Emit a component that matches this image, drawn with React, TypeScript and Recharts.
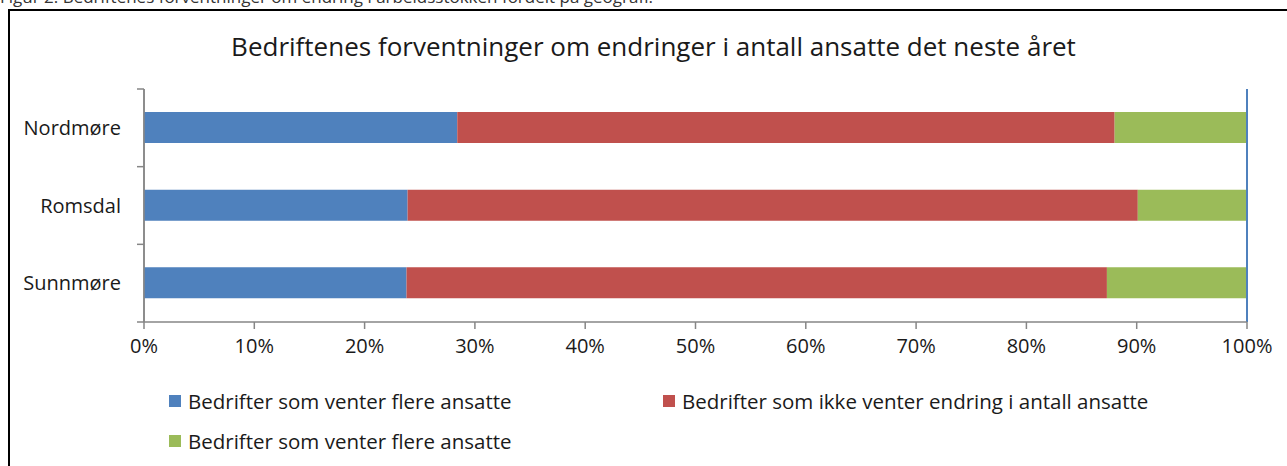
import { BarChart, Bar, XAxis, YAxis, CartesianGrid, ReferenceLine } from 'recharts';

const regions = ['Nordmøre', 'Romsdal', 'Sunnmøre'];
const flere = [28.4, 23.9, 23.8];
const ingenEndring = [59.6, 66.2, 63.5];
const faerre = [12.0, 9.9, 12.7];
const xTicks = [0, 10, 20, 30, 40, 50, 60, 70, 80, 90, 100];

const seriesNames = [
  'Bedrifter som venter flere ansatte',
  'Bedrifter som ikke venter endring i antall ansatte',
  'Bedrifter som venter flere ansatte',
];
const colors = ['#4F81BD', '#C0504D', '#9BBB59'];

const data = regions.map((name, i) => ({
  name,
  a: flere[i],
  b: ingenEndring[i],
  c: faerre[i],
}));

const FONT = '"Open Sans", "Noto Sans", sans-serif';
const W = 1287;
const H = 466;
const PLOT_TOP = 89;
const PLOT_BOTTOM = 322;
const X_AXIS_H = 30;
const BAND = (PLOT_BOTTOM - PLOT_TOP) / regions.length;
const LABEL_SIZE = 20;

// category label at the band centre, tick marks on the band boundaries (Excel style)
const CategoryTick = (props: any) => {
  const { x, y, payload, index } = props;
  return (
    <g>
      {index === 0 && <line x1={x - 7} x2={x} y1={y - BAND / 2} y2={y - BAND / 2} stroke="#868686" strokeWidth={1.5} />}
      <line x1={x - 7} x2={x} y1={y + BAND / 2} y2={y + BAND / 2} stroke="#868686" strokeWidth={1.5} />
      <text x={x - 23} y={y} dy="0.35em" textAnchor="end" fontSize={LABEL_SIZE} fill="#1a1a1a" fontFamily={FONT}>
        {payload.value}
      </text>
    </g>
  );
};

export default function App() {
  return (
    <div style={{ position: 'absolute', left: 0, top: 0, width: W, height: H, overflow: 'hidden', background: '#fff', fontFamily: FONT }}>
      <div style={{ position: 'absolute', left: 0, top: -13, fontSize: 17, lineHeight: '20px', color: '#333', whiteSpace: 'nowrap' }}>
        Figur 2: Bedriftenes forventninger om endring i arbeidsstokken fordelt på geografi.
      </div>
      <div style={{ position: 'absolute', left: 8, top: 9, width: W, height: H, borderLeft: '2.5px solid #000', borderTop: '2.5px solid #000', boxSizing: 'border-box' }} />
      <div style={{ position: 'absolute', left: 0, top: 31, width: 1307, textAlign: 'center', fontSize: 26, lineHeight: '30px', color: '#1a1a1a', whiteSpace: 'nowrap' }}>
        Bedriftenes forventninger om endringer i antall ansatte det neste året
      </div>
      <div style={{ position: 'absolute', left: 0, top: 0 }}>
        <BarChart
          width={W}
          height={H}
          data={data}
          layout="vertical"
          barSize={31}
          margin={{ top: PLOT_TOP, right: W - 1247, bottom: H - PLOT_BOTTOM - X_AXIS_H, left: 0 }}
        >
          <CartesianGrid horizontal={false} stroke="#868686" strokeWidth={1.5} />
          <XAxis
            type="number"
            xAxisId="main"
            domain={[0, 100]}
            ticks={xTicks}
            tickFormatter={(v) => `${v}%`}
            height={X_AXIS_H}
            stroke="#868686"
            strokeWidth={1.5}
            tickSize={7}
            tickMargin={10}
            tick={{ fontSize: LABEL_SIZE, fill: '#1a1a1a', fontFamily: FONT }}
          />
          <XAxis
            type="number"
            xAxisId="top"
            orientation="top"
            domain={[0, 100]}
            height={0}
            tick={false}
            tickLine={false}
            stroke="#4F81BD"
            strokeWidth={2}
          />
          <YAxis
            type="category"
            dataKey="name"
            yAxisId="cat"
            width={144}
            stroke="#868686"
            strokeWidth={1.5}
            tickLine={false}
            tickSize={0}
            tickMargin={0}
            tick={<CategoryTick />}
          />
          <Bar dataKey="a" name={seriesNames[0]} stackId="s" xAxisId="main" yAxisId="cat" fill={colors[0]} isAnimationActive={false} />
          <Bar dataKey="b" name={seriesNames[1]} stackId="s" xAxisId="main" yAxisId="cat" fill={colors[1]} isAnimationActive={false} />
          <Bar dataKey="c" name={seriesNames[2]} stackId="s" xAxisId="main" yAxisId="cat" fill={colors[2]} isAnimationActive={false} />
          <ReferenceLine x={100} xAxisId="main" yAxisId="cat" stroke="#4F81BD" strokeWidth={2} />
        </BarChart>
      </div>
      {seriesNames.map((label, i) => (
        <div
          key={i}
          style={{
            position: 'absolute',
            left: i === 1 ? 663 : 169,
            top: i === 2 ? 430 : 390,
            display: 'flex',
            alignItems: 'center',
            fontSize: 20.5,
            lineHeight: '22px',
            color: '#1a1a1a',
            whiteSpace: 'nowrap',
          }}
        >
          <span style={{ width: 12, height: 12, background: colors[i], marginRight: 7, display: 'inline-block' }} />
          {label}
        </div>
      ))}
    </div>
  );
}
